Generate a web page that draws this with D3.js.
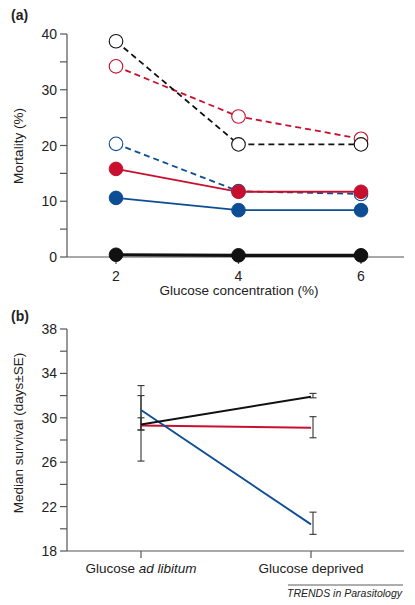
<!DOCTYPE html>
<html><head><meta charset="utf-8">
<script src="https://cdn.jsdelivr.net/npm/d3@7"></script>
<style>
body{margin:0;background:#fff;}
text{font-family:"Liberation Sans",Arial,sans-serif;fill:#222;}
</style></head>
<body>
<svg id="c" width="415" height="605"></svg>
<script>
// Panel (a) data
const glucose = [2, 4, 6];
const blackOpen = [38.7, 20.2, 20.2];
const redOpen = [34.2, 25.2, 21.2];
const blueOpen = [20.3, 11.8, 11.3];
const redFilled = [15.8, 11.7, 11.7];
const blueFilled = [10.6, 8.4, 8.4];
const blackFilled = [0.4, 0.3, 0.3];
const mortTicks = [0, 10, 20, 30, 40];
const mortMinor = [0, 5, 10, 15, 20, 25, 30, 35, 40];

// Panel (b) data
const conditions = ["Glucose ad libitum", "Glucose deprived"];
const survBlack = [29.4, 31.9];
const survRed = [29.3, 29.1];
const survBlue = [30.7, 20.4];
const errBlackLow = [28.9, 31.8];
const errBlackHigh = [30.0, 32.2];
const errRedLow = [26.1, 28.2];
const errRedHigh = [32.0, 30.1];
const errBlueLow = [28.9, 19.5];
const errBlueHigh = [32.9, 21.5];
const survTicks = [18, 22, 26, 30, 34, 38];
const survMinor = [18, 20, 22, 24, 26, 28, 30, 32, 34, 36, 38];

const RED = "#c8102e", BLUE = "#0d4d93", BLK = "#111", AX = "#555";
const svg = d3.select("#c");

// ---------- Panel a ----------
const xa = d3.scaleLinear().domain([2, 6]).range([116, 361]);
const ya = d3.scaleLinear().domain([0, 40]).range([257, 34]);
const ga = svg.append("g");
ga.append("line").attr("x1", 67).attr("x2", 404).attr("y1", ya(0)).attr("y2", ya(0)).attr("stroke", AX).attr("stroke-width", 1.2);
ga.append("line").attr("x1", 67).attr("x2", 67).attr("y1", ya(0)).attr("y2", ya(40)).attr("stroke", AX).attr("stroke-width", 1.2);
ga.selectAll(".ymin").data(mortMinor).join("line")
  .attr("x1", 60).attr("x2", 67).attr("y1", d => ya(d)).attr("y2", d => ya(d)).attr("stroke", AX).attr("stroke-width", 1.2);
ga.selectAll(".ylab").data(mortTicks).join("text")
  .attr("x", 57).attr("y", d => ya(d) + 5).attr("text-anchor", "end").attr("font-size", 14).text(d => d);
ga.selectAll(".xt").data(glucose).join("line")
  .attr("x1", d => xa(d)).attr("x2", d => xa(d)).attr("y1", ya(0)).attr("y2", ya(0) + 7).attr("stroke", AX).attr("stroke-width", 1.2);
ga.selectAll(".xl").data(glucose).join("text")
  .attr("x", d => xa(d)).attr("y", 281).attr("text-anchor", "middle").attr("font-size", 14).text(d => d);
ga.append("text").attr("x", 239).attr("y", 295).attr("text-anchor", "middle").attr("font-size", 13.5).text("Glucose concentration (%)");
ga.append("text").attr("transform", "translate(23,146) rotate(-90)").attr("text-anchor", "middle").attr("font-size", 13.5).text("Mortality (%)");
ga.append("text").attr("x", 11).attr("y", 20).attr("font-size", 14).attr("font-weight", "bold").text("(a)");

const line = d3.line().x((d, i) => xa(glucose[i])).y(d => ya(d));
const series = [
  {v: blueOpen, c: BLUE, dash: true, open: true, w: 1.8},
  {v: redOpen, c: RED, dash: true, open: true, w: 1.8},
  {v: blackOpen, c: BLK, dash: true, open: true, w: 1.8},
  {v: blueFilled, c: BLUE, dash: false, open: false, w: 1.8},
  {v: redFilled, c: RED, dash: false, open: false, w: 1.8},
  {v: blackFilled, c: BLK, dash: false, open: false, w: 3.2}
];
series.forEach(s => {
  ga.append("path").attr("d", line(s.v)).attr("fill", "none").attr("stroke", s.c)
    .attr("stroke-width", s.w).attr("stroke-dasharray", s.dash ? "6,4" : null);
});
series.forEach(s => {
  ga.selectAll(null).data(s.v).join("circle")
    .attr("cx", (d, i) => xa(glucose[i])).attr("cy", d => ya(d)).attr("r", 6.8)
    .attr("fill", s.open ? "#fff" : s.c).attr("stroke", s.c).attr("stroke-width", s.open ? 1.1 : 1);
});

// ---------- Panel b ----------
const xb = d3.scalePoint().domain(conditions).range([141, 311]);
const yb = d3.scaleLinear().domain([18, 38]).range([551, 329]);
const gb = svg.append("g");
gb.append("line").attr("x1", 67).attr("x2", 404).attr("y1", yb(18)).attr("y2", yb(18)).attr("stroke", AX).attr("stroke-width", 1.2);
gb.append("line").attr("x1", 67).attr("x2", 67).attr("y1", yb(18)).attr("y2", yb(38)).attr("stroke", AX).attr("stroke-width", 1.2);
gb.selectAll(".ymin").data(survMinor).join("line")
  .attr("x1", 60).attr("x2", 67).attr("y1", d => yb(d)).attr("y2", d => yb(d)).attr("stroke", AX).attr("stroke-width", 1.2);
gb.selectAll(".ylab").data(survTicks).join("text")
  .attr("x", 57).attr("y", d => yb(d) + 5).attr("text-anchor", "end").attr("font-size", 14).text(d => d);
gb.selectAll(".xt").data(conditions).join("line")
  .attr("x1", d => xb(d)).attr("x2", d => xb(d)).attr("y1", yb(18)).attr("y2", yb(18) + 7).attr("stroke", AX).attr("stroke-width", 1.2);
const xl = gb.selectAll(".xl").data(conditions).join("text")
  .attr("x", d => xb(d)).attr("y", 573).attr("text-anchor", "middle").attr("font-size", 13.5);
xl.each(function(d) {
  const t = d3.select(this);
  if (d === "Glucose ad libitum") {
    t.append("tspan").text("Glucose ");
    t.append("tspan").attr("font-style", "italic").text("ad libitum");
  } else t.text(d);
});
gb.append("text").attr("transform", "translate(23,433) rotate(-90)").attr("text-anchor", "middle").attr("font-size", 13.5).text("Median survival (days\u00b1SE)");
gb.append("text").attr("x", 11).attr("y", 321).attr("font-size", 14).attr("font-weight", "bold").text("(b)");

const errs = [
  {lo: errRedLow, hi: errRedHigh},
  {lo: errBlueLow, hi: errBlueHigh},
  {lo: errBlackLow, hi: errBlackHigh}
];
const exOff = [0, 2];
errs.forEach(e => {
  conditions.forEach((c, i) => {
    const x = xb(c) + exOff[i];
    gb.append("line").attr("x1", x).attr("x2", x).attr("y1", yb(e.lo[i])).attr("y2", yb(e.hi[i])).attr("stroke", "#333").attr("stroke-width", 1.1);
    [e.lo[i], e.hi[i]].forEach(v => {
      gb.append("line").attr("x1", x - 3.5).attr("x2", x + 3.5).attr("y1", yb(v)).attr("y2", yb(v)).attr("stroke", "#333").attr("stroke-width", 1.1);
    });
  });
});
const lb = d3.line().x((d, i) => xb(conditions[i])).y(d => yb(d));
[[survRed, RED], [survBlue, BLUE], [survBlack, BLK]].forEach(([v, c]) => {
  gb.append("path").attr("d", lb(v)).attr("fill", "none").attr("stroke", c).attr("stroke-width", 1.9);
});

// footer
svg.append("line").attr("x1", 288).attr("x2", 403).attr("y1", 585).attr("y2", 585).attr("stroke", "#333").attr("stroke-width", 0.8);
svg.append("text").attr("x", 402).attr("y", 597).attr("text-anchor", "end").attr("font-size", 10.5).attr("font-style", "italic").text("TRENDS in Parasitology");
</script>
</body></html>
